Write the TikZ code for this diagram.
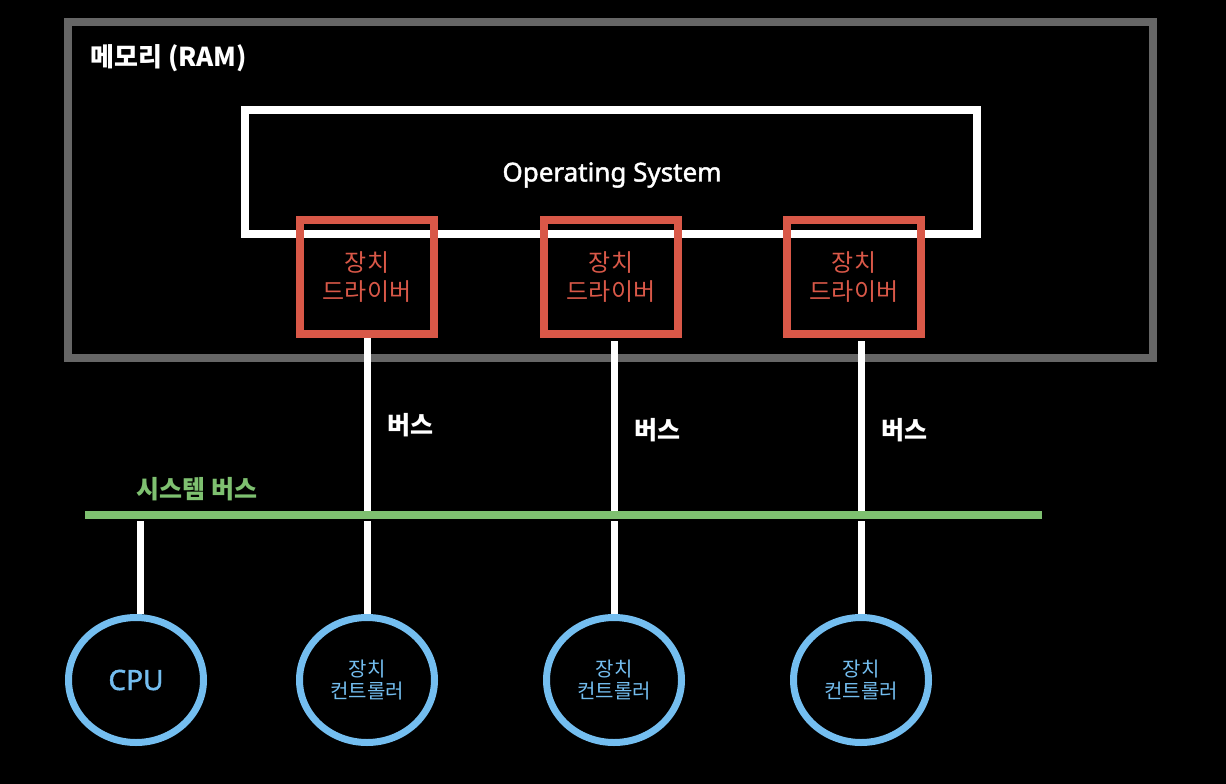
\documentclass[tikz,border=0pt]{standalone}
\usepackage{fontspec}
\setmainfont{Noto Sans}
\newfontfamily\kr{Noto Sans CJK KR}
\newfontfamily\medsans{Noto Sans}[FakeBold=1.6]
\usetikzlibrary{shapes.geometric}
\definecolor{ramgray}{RGB}{102,102,102}
\definecolor{drvred}{RGB}{217,88,72}
\definecolor{busgreen}{RGB}{126,192,112}
\definecolor{ctrlblue}{RGB}{116,190,240}
\tikzset{
  ramframe/.style={draw=ramgray, line width=8pt, minimum width=1085pt, minimum height=336pt, inner sep=0pt},
  osframe/.style={draw=white, line width=8pt, minimum width=732pt, minimum height=124pt, inner sep=0pt},
  driverbox/.style={draw=drvred, line width=8pt, minimum width=134pt, minimum height=114pt, inner sep=0pt,
    text=drvred, align=center, font=\kr\fontsize{24}{29}\selectfont},
  ctrlnode/.style={ellipse, draw=ctrlblue, line width=7pt, minimum width=135pt, minimum height=125pt, inner sep=0pt,
    text=ctrlblue, align=center, font=\kr\fontsize{20}{22}\selectfont},
  wire/.style={draw=white, line width=7pt},
  buslabel/.style={text=white, font=\kr\bfseries\fontsize{25}{28}\selectfont}
}
\begin{document}
\begin{tikzpicture}[x=1pt, y=-1pt]
  \fill[black] (0,0) rectangle (1226,784);
  \useasboundingbox (0,0) rectangle (1226,784);
  % memory
  \node[ramframe] (ram) at (610.5,190) {};
  \node[anchor=west, text=white, font=\kr\bfseries\fontsize{26}{30}\selectfont] (ramlabel) at (87,58) {메모리 (RAM)};
  \node[osframe] (os) at (611,172) {};
  \node[text=white, font=\medsans\fontsize{26}{30}\selectfont] (oslabel) at (612,175) {Operating System};
  % drivers
  \node[driverbox] (drv1) at (367,277) {장치\\드라이버};
  \node[driverbox] (drv2) at (611,277) {장치\\드라이버};
  \node[driverbox] (drv3) at (854,277) {장치\\드라이버};
  % system bus
  \coordinate (busl) at (85,515);
  \coordinate (busr) at (1042,515);
  \node[text=busgreen, font=\kr\bfseries\fontsize{25}{28}\selectfont] (buslabel) at (197,489) {시스템 버스};
  % cpu and controllers
  \node[ctrlnode, font=\medsans\fontsize{28}{30}\selectfont] (cpu) at (136,680) {CPU};
  \node[ctrlnode] (ctl1) at (367,680) {장치\\컨트롤러};
  \node[ctrlnode] (ctl2) at (614,680) {장치\\컨트롤러};
  \node[ctrlnode] (ctl3) at (861,680) {장치\\컨트롤러};
  % buses
  \draw[wire] (ctl1.north |- drv1.south) -- (ctl1.north |- 0,511);
  \draw[wire] ([yshift=-3pt]ctl2.north |- drv2.south) -- (ctl2.north |- 0,511);
  \draw[wire] ([yshift=-3pt]ctl3.north |- drv3.south) -- (ctl3.north |- 0,511);
  \draw[wire] ([xshift=4pt]cpu.north |- 0,521) -- ([xshift=4pt]cpu.north);
  \draw[wire] (ctl1.north |- 0,521) -- (ctl1.north);
  \draw[wire] (ctl2.north |- 0,521) -- (ctl2.north);
  \draw[wire] (ctl3.north |- 0,521) -- (ctl3.north);
  \draw[busgreen, line width=8pt] (busl) -- (busr);
  \node[buslabel] (bus1) at (410,425) {버스};
  \node[buslabel] (bus2) at (657,430) {버스};
  \node[buslabel] (bus3) at (904,430) {버스};
\end{tikzpicture}
\end{document}
